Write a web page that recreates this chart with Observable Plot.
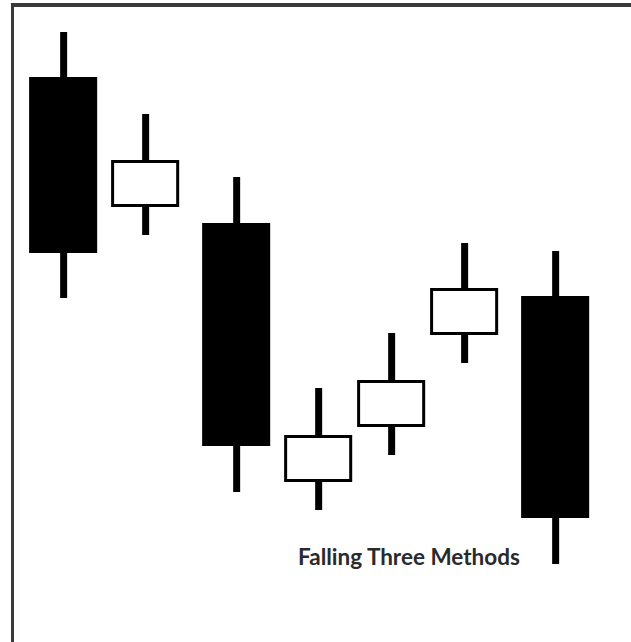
<!DOCTYPE html>
<html><head><meta charset="utf-8">
<script src="https://cdn.jsdelivr.net/npm/d3@7"></script>
<script src="https://cdn.jsdelivr.net/npm/@observablehq/plot@0.6"></script>
<style>
html,body{margin:0;padding:0;background:#fff;}
#wrap{position:relative;width:631px;height:642px;overflow:hidden;background:#fff;}
#frame{position:absolute;left:11px;top:3px;width:660px;height:680px;border-top:4px solid #3a3a3a;border-left:3px solid #3a3a3a;}
#chart{position:absolute;left:0;top:0;}
#caption{position:absolute;left:298px;top:543px;font-family:Lato,"Open Sans",sans-serif;font-weight:bold;font-size:22.5px;color:#2a2a2a;white-space:nowrap;line-height:27px;}
</style></head><body>
<div id="wrap"><div id="frame"></div><div id="chart"></div><div id="caption">Falling Three Methods</div></div>
<script>
// Candle sessions (x position in session units)
const sessions = [1.02, 2.02, 3.13, 4.13, 5.02, 5.91, 7.02];
const opens  = [113.0, 87.0, 83.8, 32.0, 43.0, 61.4, 69.2];
const closes = [77.8, 96.4, 39.2, 41.4, 52.4, 70.8, 24.8];
const highs  = [122.0, 105.6, 93.0, 50.8, 61.8, 79.8, 78.2];
const lows   = [68.8, 81.4, 30.0, 26.4, 37.4, 55.8, 15.6];

const candles = sessions.map((s, i) => ({
  s, open: opens[i], close: closes[i], high: highs[i], low: lows[i],
  down: closes[i] < opens[i]
}));
const half = 0.415;

const chart = Plot.plot({
  width: 631,
  height: 642,
  margin: 0,
  x: {domain: [0.25, 7.945], axis: null},
  y: {domain: [0, 128.4], axis: null},
  marks: [
    Plot.ruleX(candles, {x: "s", y1: "low", y2: "high", stroke: "#000", strokeWidth: 7}),
    Plot.rect(candles.filter(d => d.down), {
      x1: d => d.s - half, x2: d => d.s + half,
      y1: "open", y2: "close", fill: "#000"
    }),
    Plot.rect(candles.filter(d => !d.down), {
      x1: d => d.s - half, x2: d => d.s + half,
      y1: "open", y2: "close", fill: "#fff", stroke: "#000", strokeWidth: 3, inset: 1.5
    })
  ]
});
chart.style.background = "transparent";
document.getElementById("chart").appendChild(chart);
</script>
</body></html>
